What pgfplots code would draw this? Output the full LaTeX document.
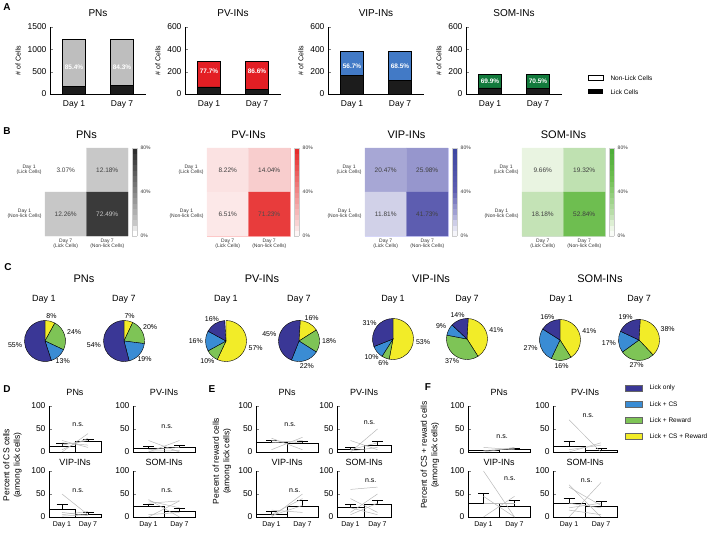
\documentclass[border=0pt]{standalone}
\usepackage{fontspec}
\setmainfont{Liberation Sans}
\usepackage{pgfplots}
\pgfplotsset{compat=1.18}
\usetikzlibrary{calc}

\definecolor{pngray}{RGB}{190,190,190}
\definecolor{pvred}{RGB}{227,30,36}
\definecolor{vipblue}{RGB}{66,122,198}
\definecolor{somgreen}{RGB}{18,122,60}
\definecolor{lickblk}{RGB}{28,28,28}
\definecolor{ppur}{RGB}{58,55,150}
\definecolor{pblu}{RGB}{58,140,212}
\definecolor{pgrn}{RGB}{126,196,86}
\definecolor{pyel}{RGB}{242,236,40}

\newcommand{\fs}[1]{\fontsize{#1}{#1}\selectfont}

\tikzset{
  cell/.style={font=\fs{6.5}, text=black!75},
  ns/.style={font=\fs{7}},
  pct/.style={font=\bfseries\fs{6.5}, text=white},
  ylab/.style={rotate=90, align=center, font=\fontsize{8.5}{10.5}\selectfont},
}

\pgfplotsset{
  /pgf/number format/assume math mode=true,
  /pgf/number format/1000 sep={},
  colormap={pnmap}{rgb255(0cm)=(255,255,255) rgb255(4cm)=(255,255,255) rgb255(12cm)=(200,200,200) rgb255(80cm)=(40,40,40)},
  colormap={pvmap}{rgb255(0cm)=(255,255,255) rgb255(14cm)=(248,205,205) rgb255(80cm)=(229,38,38)},
  colormap={vipmap}{rgb255(0cm)=(255,255,255) rgb255(12cm)=(208,208,232) rgb255(20cm)=(168,168,214) rgb255(26cm)=(150,150,205) rgb255(42cm)=(92,92,176) rgb255(80cm)=(60,70,160)},
  colormap={sommap}{rgb255(0cm)=(255,255,255) rgb255(10cm)=(232,244,224) rgb255(19cm)=(192,225,178) rgb255(53cm)=(110,190,80) rgb255(80cm)=(75,172,55)},
  % panel A
  abar/.style={scale only axis, width=96pt, height=67pt, anchor=south west,
    xmin=0, xmax=4, xtick={1,3}, xticklabels={Day 1,Day 7}, ymin=0,
    axis x line*=bottom, axis y line*=left, axis line style={-, line width=0.6pt},
    ybar stacked, bar width=23pt,
    tick align=inside, major tick length=3pt, xtick style={draw=none},
    tick label style={font=\fs{8.5}}, xticklabel style={yshift=-3pt},
    ylabel={\# of Cells}, ylabel style={font=\fs{7}},
    title style={font=\fs{10}, at={(0.5,1)}, anchor=south, yshift=1pt},
    every axis plot/.append style={draw=black, line width=0.6pt}},
  % panel B
  hm/.style={scale only axis, width=83pt, height=88pt, anchor=south west,
    xmin=0.5, xmax=2.5, ymin=0.5, ymax=2.5, y dir=reverse, enlargelimits=false,
    xtick={1,2}, ytick={1,2}, major tick length=0pt,
    xticklabels={{Day 7\\(Lick Cells)},{Day 7\\(Non-lick Cells)}},
    yticklabels={{Day 1\\(Lick Cells)},{Day 1\\(Non-lick Cells)}},
    tick label style={align=center, font=\fs{5}, text=black!80},
    point meta min=0, point meta max=80,
    colorbar, colorbar sampled,
    colorbar shift/.style={xshift=4pt},
    colorbar style={width=5pt, samples=17, ytick={0,40,80},
      yticklabels={0\%,40\%,80\%}, major tick length=0pt,
      yticklabel style={font=\fs{5}}, axis line style={gray!40}},
    title style={font=\fs{11}, at={(0.5,1)}, anchor=south, yshift=0pt},
    axis line style={gray!35}, clip=false},
  % panels D-F
  sm/.style={scale only axis, width=#1, height=46pt, anchor=south west,
    xmin=0.5, xmax=2.5, ymin=0, ymax=100, ytick={0,50,100}, xtick={1,2},
    axis x line*=bottom, axis y line*=left, axis line style={-},
    x axis line style={line width=1.2pt, black!65},
    tick align=inside, major tick length=3pt, xtick style={draw=none},
    tick label style={font=\fs{8.5}}, clip=false,
    error bars/error bar style={line width=0.8pt, black},
    error bars/error mark options={black, mark size=5.5pt, line width=0.8pt, rotate=90}},
  smtop/.style={sm=#1, xticklabels={},
    title style={font=\fs{9}, at={(0.5,1)}, anchor=south, inner sep=0pt, yshift=4pt}},
  smbot/.style={sm=#1, xticklabels={Day 1,Day 7}, xticklabel style={font=\fs{7}, yshift=-1pt},
    title style={font=\fs{9}, at={(0.5,1)}, anchor=south, inner sep=0pt, yshift=-1pt}},
  bars/.style={ybar, bar width=1, fill=white, draw=black, line width=0.8pt},
  ind/.style={gray!55, line width=0.5pt, mark=none},
}

% pie: centre x, centre y (px), list pct/colour from 12 o'clock clockwise
\newcommand{\pie}[3]{%
\begin{axis}[hide axis, scale only axis, width=41pt, height=41pt,
  xmin=-1, xmax=1, ymin=-1, ymax=1, anchor=center, at={(#1pt,-#2pt)}, clip=false]
  \foreach \p/\c [remember=\e as \s (initially 90)] in {#3} {
    \pgfmathsetmacro\e{\s-3.6*\p}
    \pgfmathsetmacro\m{\s-1.8*\p}
    \pgfmathsetmacro\an{mod(\m+540,360)}
    \edef\temp{\noexpand\filldraw[fill=\c, draw=black, line width=0.4pt]
        (axis cs:0,0) -- ++(\s:20.5pt) arc[start angle=\s, end angle=\e, radius=20.5pt] -- cycle;
      \noexpand\node[font=\noexpand\fs{7}, anchor=\an, inner sep=1pt]
        at ($(axis cs:0,0)+(\m:22pt)$) {\p\noexpand\%};}
    \temp
  }
\end{axis}}

\begin{document}
\begin{tikzpicture}
\useasboundingbox (0,0) rectangle (711pt,-532pt);

% ---------------- A ----------------
\node[font=\bfseries\fs{10}] at (7pt,-7pt) {A};

\begin{axis}[abar, at={(50pt,-94pt)}, ymax=1500, ytick={0,500,1000,1500}, title=PNs]
\addplot[fill=lickblk] coordinates {(1,179) (3,192)};
\addplot[fill=pngray] coordinates {(1,1046) (3,1033)};
\end{axis}
\node[pct] at (74pt,-67pt) {85.4\%};
\node[pct] at (122pt,-67pt) {84.3\%};

\begin{axis}[abar, at={(185pt,-94pt)}, ymax=600, ytick={0,200,400,600}, title=PV-INs]
\addplot[fill=lickblk] coordinates {(1,64) (3,39)};
\addplot[fill=pvred] coordinates {(1,225) (3,250)};
\end{axis}
\node[pct] at (209pt,-71pt) {77.7\%};
\node[pct] at (257pt,-71pt) {86.6\%};

\begin{axis}[abar, at={(328pt,-94pt)}, ymax=600, ytick={0,200,400,600}, title=VIP-INs]
\addplot[fill=lickblk] coordinates {(1,167) (3,121)};
\addplot[fill=vipblue] coordinates {(1,218) (3,264)};
\end{axis}
\node[pct] at (352pt,-66pt) {56.7\%};
\node[pct] at (400pt,-66pt) {68.5\%};

\begin{axis}[abar, at={(466pt,-94pt)}, ymax=600, ytick={0,200,400,600}, title=SOM-INs]
\addplot[fill=lickblk] coordinates {(1,54) (3,53)};
\addplot[fill=somgreen] coordinates {(1,125) (3,126)};
\end{axis}
\node[pct] at (490pt,-81pt) {69.9\%};
\node[pct] at (538pt,-81pt) {70.5\%};

\draw[black, line width=0.5pt, fill=white] (588pt,-75.5pt) rectangle (603pt,-80.5pt);
\node[anchor=west, font=\fs{6.5}] at (607pt,-78pt) {Non-Lick Cells};
\fill[black] (588pt,-89.5pt) rectangle (603pt,-94.5pt);
\node[anchor=west, font=\fs{6.5}] at (607pt,-92pt) {Lick Cells};

% ---------------- B ----------------
\node[font=\bfseries\fs{10}] at (7pt,-131pt) {B};

\begin{axis}[hm, at={(45pt,-236pt)}, colormap name=pnmap, title=PNs, axis line style={draw=none}]
\addplot[matrix plot*, mesh/cols=2, point meta=explicit] table[meta=c] {
x y c
1 1 3.07
2 1 12.18
1 2 12.26
2 2 72.49
};
\node[cell] at (axis cs:1,1) {3.07\%};
\node[cell] at (axis cs:2,1) {12.18\%};
\node[cell] at (axis cs:1,2) {12.26\%};
\node[cell, text=gray!45] at (axis cs:2,2) {72.49\%};
\end{axis}

\begin{axis}[hm, at={(207pt,-236pt)}, colormap name=pvmap, title=PV-INs, axis line style={red!25}]
\addplot[matrix plot*, mesh/cols=2, point meta=explicit] table[meta=c] {
x y c
1 1 8.22
2 1 14.04
1 2 6.51
2 2 71.23
};
\node[cell] at (axis cs:1,1) {8.22\%};
\node[cell] at (axis cs:2,1) {14.04\%};
\node[cell] at (axis cs:1,2) {6.51\%};
\node[cell, text=black!70] at (axis cs:2,2) {71.23\%};
\end{axis}

\begin{axis}[hm, at={(365pt,-236pt)}, colormap name=vipmap, title=VIP-INs, axis line style={blue!15}]
\addplot[matrix plot*, mesh/cols=2, point meta=explicit] table[meta=c] {
x y c
1 1 20.47
2 1 25.98
1 2 11.81
2 2 41.73
};
\node[cell] at (axis cs:1,1) {20.47\%};
\node[cell] at (axis cs:2,1) {25.98\%};
\node[cell] at (axis cs:1,2) {11.81\%};
\node[cell] at (axis cs:2,2) {41.73\%};
\end{axis}

\begin{axis}[hm, at={(522pt,-236pt)}, colormap name=sommap, title=SOM-INs, axis line style={green!15!gray!30}]
\addplot[matrix plot*, mesh/cols=2, point meta=explicit] table[meta=c] {
x y c
1 1 9.66
2 1 19.32
1 2 18.18
2 2 52.84
};
\node[cell] at (axis cs:1,1) {9.66\%};
\node[cell] at (axis cs:2,1) {19.32\%};
\node[cell] at (axis cs:1,2) {18.18\%};
\node[cell] at (axis cs:2,2) {52.84\%};
\end{axis}

% ---------------- C ----------------
\node[font=\bfseries\fs{10}] at (8pt,-267pt) {C};
\foreach \t/\x in {PNs/84, PV-INs/262, VIP-INs/431, SOM-INs/600}
  \node[font=\fs{11}] at (\x pt,-279pt) {\t};
\foreach \x in {44, 226, 393, 561}
  \node[font=\fs{9}] at (\x pt,-299pt) {Day 1};
\foreach \x in {124, 299, 467, 639}
  \node[font=\fs{9}] at (\x pt,-299pt) {Day 7};

\pie{45}{341}{8/pyel,24/pgrn,13/pblu,55/ppur}
\pie{124}{341}{7/pyel,20/pgrn,19/pblu,54/ppur}
\pie{226}{341}{57/pyel,10/pgrn,16/pblu,16/ppur}
\pie{299}{341}{16/pyel,18/pgrn,22/pblu,45/ppur}
\pie{393}{339}{53/pyel,6/pgrn,10/pblu,31/ppur}
\pie{467}{339}{41/pyel,37/pgrn,9/pblu,14/ppur}
\pie{560}{340}{41/pyel,16/pgrn,27/pblu,16/ppur}
\pie{639}{340}{38/pyel,27/pgrn,17/pblu,19/ppur}

\foreach \c/\t/\y in {ppur/Lick only/388, pblu/Lick + CS/404, pgrn/Lick + Reward/420, pyel/Lick + CS + Reward/436} {
  \filldraw[fill=\c, draw=black!60, line width=0.3pt] (625pt,-\y pt+3pt) rectangle (642pt,-\y pt-3pt);
  \node[anchor=west, font=\fs{6.5}] at (646pt,-\y pt) {\t};
}

% ---------------- D ----------------
\node[font=\bfseries\fs{10}] at (7pt,-389pt) {D};
\node[ylab] at (12.5pt,-465pt) {Percent of CS cells\\(among lick cells)};

\begin{axis}[smtop=52pt, at={(49pt,-452pt)}, title=PNs]
\addplot[bars, error bars/.cd, y dir=plus, y explicit] coordinates {(1,12.6) +- (0,6) (2,23.7) +- (0,4.5)};
\addplot[ind] coordinates {(1,0) (2,40)};
\addplot[ind] coordinates {(1,5) (2,30)};
\addplot[ind] coordinates {(1,20) (2,15)};
\addplot[ind] coordinates {(1,25) (2,10)};
\addplot[ind] coordinates {(1,15) (2,25)};
\node[ns] at (axis cs:1.62,60) {n.s.};
\end{axis}

\begin{axis}[smtop=62pt, at={(133pt,-452pt)}, title=PV-INs]
\addplot[bars, error bars/.cd, y dir=plus, y explicit] coordinates {(1,7.4) +- (0,5) (2,9) +- (0,6)};
\addplot[ind] coordinates {(1,25) (2,0)};
\addplot[ind] coordinates {(1,0) (2,25)};
\addplot[ind] coordinates {(1,5) (2,10)};
\addplot[ind] coordinates {(1,2) (2,3)};
\node[ns] at (axis cs:1.6,56) {n.s.};
\end{axis}

\begin{axis}[smbot=52pt, at={(49pt,-517pt)}, title=VIP-INs]
\addplot[bars, error bars/.cd, y dir=plus, y explicit] coordinates {(1,17) +- (0,11) (2,6) +- (0,3.6)};
\addplot[ind] coordinates {(1,50) (2,5)};
\addplot[ind] coordinates {(1,5) (2,12)};
\addplot[ind] coordinates {(1,10) (2,3)};
\addplot[ind] coordinates {(1,2) (2,5)};
\node[ns] at (axis cs:1.62,57) {n.s.};
\end{axis}

\begin{axis}[smbot=62pt, at={(133pt,-517pt)}, title=SOM-INs]
\addplot[bars, error bars/.cd, y dir=plus, y explicit] coordinates {(1,22) +- (0,6) (2,13) +- (0,6)};
\addplot[ind] coordinates {(1,38) (2,0)};
\addplot[ind] coordinates {(1,0) (2,35)};
\addplot[ind] coordinates {(1,35) (2,20)};
\addplot[ind] coordinates {(1,30) (2,35)};
\addplot[ind] coordinates {(1,5) (2,10)};
\node[ns] at (axis cs:1.6,57) {n.s.};
\end{axis}

% ---------------- E ----------------
\node[font=\bfseries\fs{10}] at (212pt,-389pt) {E};
\node[ylab] at (222pt,-461pt) {Percent of reward cells\\(among lick cells)};

\begin{axis}[smtop=62pt, at={(256pt,-452pt)}, title=PNs]
\addplot[bars, error bars/.cd, y dir=plus, y explicit] coordinates {(1,20.7) +- (0,5.3) (2,18.5) +- (0,3.5)};
\addplot[ind] coordinates {(1,30) (2,5)};
\addplot[ind] coordinates {(1,5) (2,32)};
\addplot[ind] coordinates {(1,20) (2,25)};
\addplot[ind] coordinates {(1,25) (2,20)};
\node[ns] at (axis cs:1.6,59) {n.s.};
\end{axis}

\begin{axis}[smtop=54pt, at={(337pt,-452pt)}, title=PV-INs]
\addplot[bars, error bars/.cd, y dir=plus, y explicit] coordinates {(1,5) +- (0,4.6) (2,15) +- (0,8.7)};
\addplot[ind] coordinates {(1,25) (2,5)};
\addplot[ind] coordinates {(1,0) (2,50)};
\addplot[ind] coordinates {(1,5) (2,20)};
\addplot[ind] coordinates {(1,2) (2,10)};
\node[ns] at (axis cs:1.7,63) {n.s.};
\end{axis}

\begin{axis}[smbot=62pt, at={(256pt,-517pt)}, title=VIP-INs]
\addplot[bars, error bars/.cd, y dir=plus, y explicit] coordinates {(1,6) +- (0,6) (2,24) +- (0,13)};
\addplot[ind] coordinates {(1,0) (2,50)};
\addplot[ind] coordinates {(1,5) (2,40)};
\addplot[ind] coordinates {(1,15) (2,10)};
\addplot[ind] coordinates {(1,3) (2,25)};
\node[ns] at (axis cs:1.75,58) {n.s.};
\end{axis}

\begin{axis}[smbot=54pt, at={(337pt,-517pt)}, title=SOM-INs]
\addplot[bars, error bars/.cd, y dir=plus, y explicit] coordinates {(1,21) +- (0,7) (2,28) +- (0,9)};
\addplot[ind] coordinates {(1,60) (2,65)};
\addplot[ind] coordinates {(1,10) (2,50)};
\addplot[ind] coordinates {(1,20) (2,5)};
\addplot[ind] coordinates {(1,40) (2,10)};
\addplot[ind] coordinates {(1,5) (2,30)};
\node[ns] at (axis cs:1.75,80) {n.s.};
\end{axis}

% ---------------- F ----------------
\node[font=\bfseries\fs{10}] at (428pt,-387pt) {F};
\node[ylab] at (430pt,-455pt) {Percent of CS + reward cells\\(among lick cells)};

\begin{axis}[smtop=62pt, at={(468pt,-452pt)}, title=PNs]
\addplot[bars, error bars/.cd, y dir=plus, y explicit] coordinates {(1,2.5) +- (0,1.5) (2,6) +- (0,2)};
\addplot[ind] coordinates {(1,0) (2,10)};
\addplot[ind] coordinates {(1,10) (2,5)};
\addplot[ind] coordinates {(1,3) (2,8)};
\node[ns] at (axis cs:1.6,33) {n.s.};
\end{axis}

\begin{axis}[smtop=64pt, at={(553pt,-452pt)}, title=PV-INs]
\addplot[bars, error bars/.cd, y dir=plus, y explicit] coordinates {(1,13) +- (0,11) (2,4) +- (0,4)};
\addplot[ind] coordinates {(1,70) (2,0)};
\addplot[ind] coordinates {(1,0) (2,20)};
\addplot[ind] coordinates {(1,5) (2,15)};
\node[ns] at (axis cs:1.6,78) {n.s.};
\end{axis}

\begin{axis}[smbot=62pt, at={(468pt,-517pt)}, title=VIP-INs]
\addplot[bars, error bars/.cd, y dir=plus, y explicit] coordinates {(1,30) +- (0,22) (2,22) +- (0,14)};
\addplot[ind] coordinates {(1,100) (2,0)};
\addplot[ind] coordinates {(1,0) (2,45)};
\addplot[ind] coordinates {(1,45) (2,0)};
\addplot[ind] coordinates {(1,30) (2,30)};
\node[ns] at (axis cs:1.85,84) {n.s.};
\end{axis}

\begin{axis}[smbot=64pt, at={(553pt,-517pt)}, title=SOM-INs]
\addplot[bars, error bars/.cd, y dir=plus, y explicit] coordinates {(1,30) +- (0,11) (2,22) +- (0,11)};
\addplot[ind] coordinates {(1,70) (2,0)};
\addplot[ind] coordinates {(1,0) (2,75)};
\addplot[ind] coordinates {(1,65) (2,25)};
\addplot[ind] coordinates {(1,20) (2,30)};
\addplot[ind] coordinates {(1,15) (2,5)};
\addplot[ind] coordinates {(1,30) (2,20)};
\node[ns] at (axis cs:1.55,80) {n.s.};
\end{axis}

\end{tikzpicture}
\end{document}
